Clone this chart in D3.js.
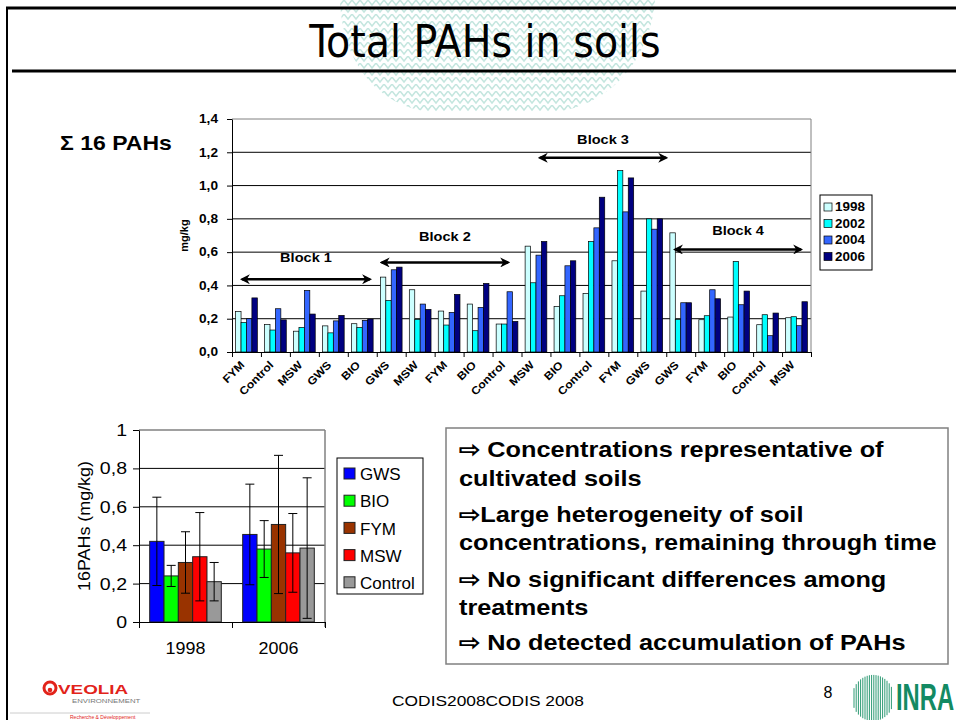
<!DOCTYPE html>
<html>
<head>
<meta charset="utf-8">
<script src="https://cdn.jsdelivr.net/npm/d3@7"></script>
<style>
  body { margin: 0; background: #fff; }
  svg { display: block; font-family: Arial, "Liberation Sans", sans-serif; }
</style>
</head>
<body>
<div id="slide"></div>
<script>
// ---- top chart data (sum of 16 PAHs, mg/kg) ----
const plotNames = ["FYM","Control","MSW","GWS","BIO","GWS","MSW","FYM","BIO","Control",
                   "MSW","BIO","Control","FYM","GWS","GWS","FYM","BIO","Control","MSW"];
const years = ["1998","2002","2004","2006"];
const v1998 = [0.243,0.165,0.125,0.157,0.170,0.450,0.374,0.246,0.288,0.168,0.636,0.274,0.352,0.548,0.366,0.716,0.194,0.210,0.164,0.206];
const v2002 = [0.177,0.132,0.148,0.115,0.148,0.310,0.196,0.162,0.128,0.168,0.416,0.338,0.664,1.090,0.800,0.196,0.218,0.544,0.224,0.212];
const v2004 = [0.200,0.260,0.370,0.187,0.190,0.494,0.288,0.238,0.268,0.362,0.582,0.518,0.746,0.842,0.738,0.296,0.374,0.284,0.098,0.158];
const v2006 = [0.325,0.193,0.228,0.220,0.198,0.510,0.256,0.346,0.412,0.184,0.664,0.548,0.930,1.046,0.800,0.296,0.320,0.366,0.234,0.302];
const topTicks = [0,0.2,0.4,0.6,0.8,1.0,1.2,1.4];

// block annotations (x in plot units, y in mg/kg)
const blockNames = ["Block 1","Block 2","Block 3","Block 4"];
const blockFrom  = [0.34, 5.17, 10.63, 15.30];
const blockTo    = [4.77, 9.54, 15.00, 19.66];
const blockArrowY = [0.437, 0.538, 1.167, 0.616];
const blockLabelY = [0.571, 0.696, 1.278, 0.728];

// ---- bottom chart data (mean +/- sd) ----
const periods = ["1998","2006"];
const treatments = ["GWS","BIO","FYM","MSW","Control"];
const mean1998 = [0.42, 0.24, 0.31, 0.34, 0.21];
const err1998  = [0.23, 0.055, 0.16, 0.23, 0.10];
const mean2006 = [0.456, 0.38, 0.508, 0.36, 0.385];
const err2006  = [0.262, 0.148, 0.36, 0.205, 0.366];
const bottomTicks = [0,0.2,0.4,0.6,0.8,1];

const bullets = [
  ["\u21E8 Concentrations representative of", "cultivated soils"],
  ["\u21E8Large heterogeneity of soil", "concentrations, remaining through time"],
  ["\u21E8 No significant differences among", "treatments"],
  ["\u21E8 No detected accumulation of PAHs"]
];

const yearColors = ["#CCFFFF","#00FFFF","#3366FF","#000080"];
const treatColors = ["#0000FF","#00FF00","#993300","#FF0000","#999999"];
const comma = d => d3.format(".1f")(d).replace(".", ",");
const SX = 1.14; // the slide text is a bit wider than plain Arial

const W = 956, H = 720;
const svg = d3.select("#slide").append("svg").attr("width", W).attr("height", H);

// text stretched horizontally around its anchor
function wide(g, x, y, str, size, sx, bold) {
  return g.append("text").attr("transform", `translate(${x},${y}) scale(${sx},1)`)
    .style("font-size", size + "px").style("font-weight", bold ? "bold" : "normal").text(str);
}

// watermark behind the title
const defs = svg.append("defs");
const pat = defs.append("pattern").attr("id","knit").attr("patternUnits","userSpaceOnUse")
  .attr("width", 8).attr("height", 7);
pat.append("path").attr("d","M0,0 L4,5 L8,0").attr("fill","none").attr("stroke","#c4e6df").attr("stroke-width",1.5);
svg.append("path")
  .attr("d","M340,0 L655,0 C650,60 610,105 555,112 L430,112 C375,105 342,60 340,0 Z")
  .attr("fill","url(#knit)");

defs.append("marker").attr("id","ah").attr("viewBox","0 0 10 10").attr("refX",8).attr("refY",5)
  .attr("markerWidth",4).attr("markerHeight",4).attr("orient","auto-start-reverse")
  .append("path").attr("d","M0,0 L10,5 L0,10 L3,5 Z").attr("fill","#000");

// slide frame + title
svg.append("line").attr("x1",6).attr("x2",W).attr("y1",8).attr("y2",8).attr("stroke","#000").attr("stroke-width",3);
svg.append("line").attr("x1",7).attr("x2",7).attr("y1",8).attr("y2",H).attr("stroke","#000").attr("stroke-width",2);
svg.append("text").attr("x",485).attr("y",57).attr("text-anchor","middle")
  .style("font-family","'Liberation Sans Narrow','DejaVu Sans Condensed',sans-serif")
  .style("font-size","44px").text("Total PAHs in soils");
svg.append("line").attr("x1",12).attr("x2",W).attr("y1",71).attr("y2",71).attr("stroke","#000").attr("stroke-width",3);

// ================= TOP CHART =================
const t = {left: 232, right: 811, top: 119, bottom: 352};
const y1 = d3.scaleLinear().domain([0,1.4]).range([t.bottom, t.top]);
const xi = d3.scaleLinear().domain([0, plotNames.length]).range([t.left, t.right]);
const x0 = d3.scaleBand().domain(d3.range(plotNames.length)).range([t.left, t.right])
  .paddingInner(0.25).paddingOuter(0.125);
const xYear = d3.scaleBand().domain(years).range([0, x0.bandwidth()]);
const series = [v1998, v2002, v2004, v2006];

const topG = svg.append("g");
topG.append("g").selectAll("line").data(topTicks.slice(1)).join("line")
  .attr("x1", t.left).attr("x2", t.right).attr("y1", d => y1(d)).attr("y2", d => y1(d))
  .attr("stroke", d => d === 1.4 ? "#808080" : "#000").attr("stroke-width", 1);
topG.append("line").attr("x1", t.right).attr("x2", t.right).attr("y1", t.top).attr("y2", t.bottom)
  .attr("stroke","#808080");

topG.append("g").selectAll("g").data(plotNames.map((n,i) => i)).join("g")
  .attr("transform", i => `translate(${x0(i)},0)`)
  .selectAll("rect").data(i => series.map((s,k) => ({k, v: s[i]}))).join("rect")
  .attr("x", d => xYear(years[d.k])).attr("width", xYear.bandwidth())
  .attr("y", d => y1(d.v)).attr("height", d => y1(0) - y1(d.v))
  .attr("fill", d => yearColors[d.k]).attr("stroke","#000").attr("stroke-width",0.7);

const ya1 = topG.append("g").attr("transform",`translate(${t.left},0)`)
  .call(d3.axisLeft(y1).tickValues(topTicks).tickFormat(comma).tickSize(5).tickSizeOuter(0));
ya1.selectAll("text").style("font-size","12px").style("font-weight","bold")
  .attr("transform",`scale(${SX},1)`).attr("x", -14 / SX);
ya1.select(".domain").attr("stroke","#000");

const xa1 = topG.append("g").attr("transform",`translate(0,${t.bottom})`)
  .call(d3.axisBottom(xi).ticks(plotNames.length).tickFormat("").tickSize(5).tickSizeOuter(0));
topG.append("g").selectAll("text").data(plotNames).join("text")
  .attr("transform", (d,i) => `translate(${x0(i) + x0.bandwidth()/2 - 4},${t.bottom + 11}) rotate(-45) scale(1.1,1)`)
  .attr("text-anchor","end").attr("dy","0.35em")
  .style("font-size","11px").style("font-weight","bold").text(d => d);

topG.append("text").attr("transform",`translate(188,${y1(0.7)}) rotate(-90)`)
  .attr("text-anchor","middle").style("font-size","11px").style("font-weight","bold").text("mg/kg");

wide(svg, 60, 150, "\u03A3 16 PAHs", 20, 1.15, true);

// blocks
blockNames.forEach((name, i) => {
  topG.append("line").attr("x1", xi(blockFrom[i])).attr("x2", xi(blockTo[i]))
    .attr("y1", y1(blockArrowY[i])).attr("y2", y1(blockArrowY[i]))
    .attr("stroke","#000").attr("stroke-width",2.5)
    .attr("marker-start","url(#ah)").attr("marker-end","url(#ah)");
  wide(topG, xi((blockFrom[i] + blockTo[i]) / 2), y1(blockLabelY[i]), name, 13, 1.12, true)
    .attr("text-anchor","middle").attr("dy","0.35em");
});

// legend top
const lg1 = svg.append("g").attr("transform","translate(820,195)");
lg1.append("rect").attr("width",52).attr("height",75).attr("fill","#fff").attr("stroke","#000");
years.forEach((yr, k) => {
  lg1.append("rect").attr("x",4).attr("y",8 + k*16.5).attr("width",8).attr("height",8)
    .attr("fill", yearColors[k]).attr("stroke","#000").attr("stroke-width",0.7);
  wide(lg1, 15, 12 + k*16.5, yr, 12, 1.12, true).attr("dy","0.36em");
});

// ================= BOTTOM CHART =================
const b = {left: 139, right: 325, top: 430, bottom: 622};
const y2 = d3.scaleLinear().domain([0,1]).range([b.bottom, b.top]);
const bx0 = d3.scaleBand().domain(periods).range([b.left, b.right]).paddingInner(0.23).paddingOuter(0.115);
const bx1 = d3.scaleBand().domain(treatments).range([0, bx0.bandwidth()]);
const means = [mean1998, mean2006], errs = [err1998, err2006];

const bot = svg.append("g");
bot.append("g").selectAll("line").data(bottomTicks.slice(1)).join("line")
  .attr("x1", b.left).attr("x2", b.right).attr("y1", d => y2(d)).attr("y2", d => y2(d))
  .attr("stroke", d => d === 1 ? "#808080" : "#000").attr("stroke-width", d => d === 1 ? 1.5 : 1);
bot.append("line").attr("x1", b.right).attr("x2", b.right).attr("y1", b.top).attr("y2", b.bottom + 5)
  .attr("stroke","#808080").attr("stroke-width",1.5);

const grp = bot.append("g").selectAll("g").data(periods).join("g")
  .attr("transform", p => `translate(${bx0(p)},0)`);
grp.selectAll("rect").data((p,pi) => treatments.map((tr,k) => ({tr, k, v: means[pi][k], e: errs[pi][k]})))
  .join("rect")
  .attr("x", d => bx1(d.tr)).attr("width", bx1.bandwidth())
  .attr("y", d => y2(d.v)).attr("height", d => y2(0) - y2(d.v))
  .attr("fill", d => treatColors[d.k]).attr("stroke","#222").attr("stroke-width",1);
const eb = grp.selectAll("g.err").data((p,pi) => treatments.map((tr,k) => ({tr, v: means[pi][k], e: errs[pi][k]})))
  .join("g").attr("class","err")
  .attr("transform", d => `translate(${bx1(d.tr) + bx1.bandwidth()/2},0)`);
eb.append("line").attr("y1", d => y2(d.v + d.e)).attr("y2", d => y2(d.v - d.e)).attr("stroke","#000");
eb.append("line").attr("x1",-4.5).attr("x2",4.5).attr("y1", d => y2(d.v + d.e)).attr("y2", d => y2(d.v + d.e)).attr("stroke","#000");
eb.append("line").attr("x1",-4.5).attr("x2",4.5).attr("y1", d => y2(d.v - d.e)).attr("y2", d => y2(d.v - d.e)).attr("stroke","#000");

const ya2 = bot.append("g").attr("transform",`translate(${b.left},0)`)
  .call(d3.axisLeft(y2).tickValues(bottomTicks).tickFormat(d => (d === 0 || d === 1) ? d : comma(d)).tickSize(6).tickSizeOuter(0));
ya2.selectAll("text").style("font-size","17px")
  .attr("transform","scale(1.15,1)").attr("x", -12 / 1.15);
const xa2 = bot.append("g").attr("transform",`translate(0,${b.bottom})`)
  .call(d3.axisBottom(d3.scaleLinear().domain([0,2]).range([b.left, b.right])).ticks(2).tickFormat("").tickSize(6).tickSizeOuter(0));
periods.forEach(p => wide(bot, bx0(p) + bx0.bandwidth()/2, 654, p, 16, 1.12, false).attr("text-anchor","middle"));
bot.append("text").attr("transform",`translate(84,${y2(0.5)}) rotate(-90) scale(1.12,1)`)
  .attr("text-anchor","middle").attr("dy","0.35em").style("font-size","16px").text("16PAHs (mg/kg)");

const lg2 = svg.append("g").attr("transform","translate(337,458)");
lg2.append("rect").attr("width",86).attr("height",136).attr("fill","#fff").attr("stroke","#000");
treatments.forEach((tr, k) => {
  lg2.append("rect").attr("x",7).attr("y",10 + k*27.2).attr("width",11).attr("height",11)
    .attr("fill", treatColors[k]).attr("stroke","#222");
  lg2.append("text").attr("x",23).attr("y",16 + k*27.2).attr("dy","0.36em")
    .style("font-size","17px").text(tr);
});

// ================= TEXT BOX =================
const tb = svg.append("g");
tb.append("rect").attr("x",446).attr("y",428).attr("width",502).attr("height",236)
  .attr("fill","#fff").attr("stroke","#808080").attr("stroke-width",1.5);
const lineY = [[457,486],[522,550],[587,615],[650]];
bullets.forEach((lines, i) => lines.forEach((s, j) =>
  wide(tb, 459, lineY[i][j], s, 22, 1.15, true)));

// ================= FOOTER =================
wide(svg, 488, 706, "CODIS2008CODIS 2008", 15.5, 1.12, false).attr("text-anchor","middle");
svg.append("text").attr("x",828).attr("y",698).attr("text-anchor","middle")
  .style("font-size","16px").text("8");

// veolia
const ve = svg.append("g");
ve.append("circle").attr("cx",50).attr("cy",688).attr("r",6).attr("fill","none").attr("stroke","#e2231a").attr("stroke-width",3);
ve.append("circle").attr("cx",50).attr("cy",690).attr("r",2.3).attr("fill","#e2231a");
wide(ve, 58, 694, "VEOLIA", 13, 1.45, true).attr("fill","#e2231a");
wide(ve, 72, 703, "ENVIRONNEMENT", 6, 1.3, false).attr("fill","#777");
ve.append("line").attr("x1",10).attr("x2",150).attr("y1",713).attr("y2",713).attr("stroke","#ccc");
ve.append("text").attr("x",70).attr("y",719).style("font-size","5px").attr("fill","#e2231a").text("Recherche & Développement");

// inra
const inra = svg.append("g");
const stripes = d3.range(-19, 20, 2.2);
inra.selectAll("line").data(stripes).join("line")
  .attr("x1", d => 873 + d).attr("x2", d => 873 + d)
  .attr("y1", d => 698 - 1.1 * Math.sqrt(Math.max(0, 441 - d*d)))
  .attr("y2", d => 698 + 1.1 * Math.sqrt(Math.max(0, 441 - d*d)))
  .attr("stroke","#2e9a74").attr("stroke-width",1);
wide(inra, 896, 710, "INRA", 36, 0.66, true).attr("fill","#138a63");
</script>
</body>
</html>
